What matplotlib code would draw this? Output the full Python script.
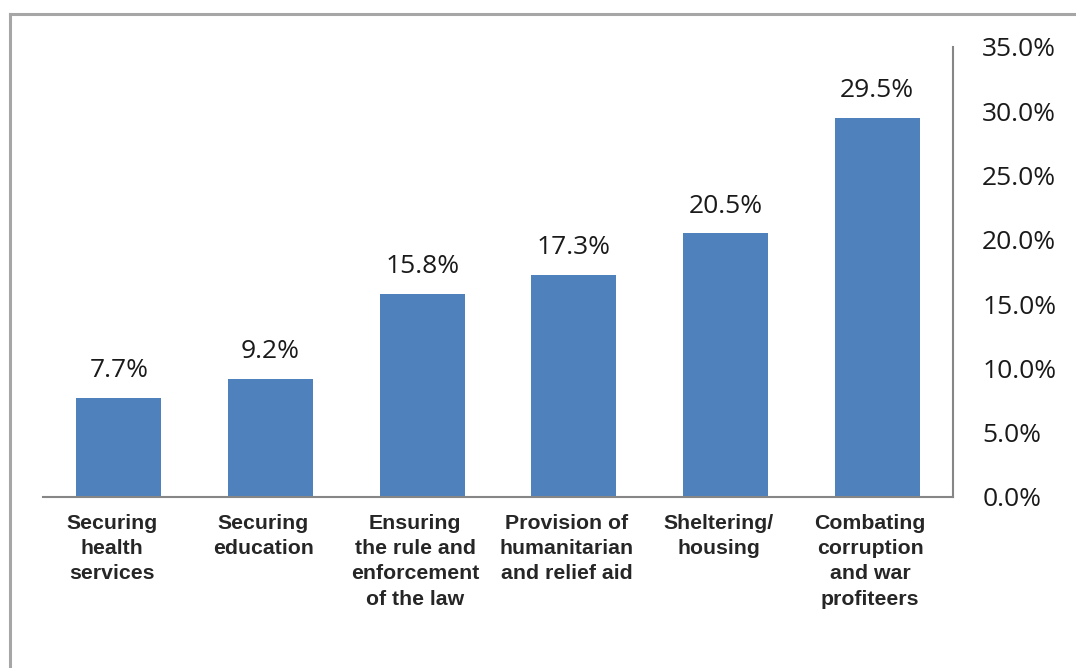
import matplotlib
matplotlib.use("Agg")
import matplotlib.pyplot as plt
from matplotlib.lines import Line2D
import matplotlib.transforms as mtransforms
import numpy as np

categories = ["Securing\nhealth\nservices", "Securing\neducation",
              "Ensuring\nthe rule and\nenforcement\nof the law",
              "Provision of\nhumanitarian\nand relief aid",
              "Sheltering/\nhousing", "Combating\ncorruption\nand war\nprofiteers"]
values = [7.7, 9.2, 15.8, 17.3, 20.5, 29.5]
yticks = [0, 5, 10, 15, 20, 25, 30, 35]

fig = plt.figure(figsize=(10.76, 6.68), dpi=100)
ax = fig.add_axes([43 / 1076, 1 - 497 / 668, 910 / 1076, 450 / 668])

x = np.arange(len(categories))
ax.bar(x, values, width=0.56, color="#4F81BD", zorder=2)

for xi, v in zip(x, values):
    ax.annotate(f"{v:.1f}%", (xi, v), xytext=(0, 10.5), textcoords="offset points",
                ha="center", va="bottom", fontsize=19, family="Open Sans", color="#1a1a1a")

ax.set_xlim(-0.5, len(categories) - 0.5)
ax.set_ylim(0, 35)
ax.yaxis.tick_right()
ax.set_yticks(yticks)
ax.set_yticklabels([f"{t:.1f}%" for t in yticks], family="Open Sans", fontsize=19, color="#1a1a1a")
ax.tick_params(axis="y", length=0, pad=21)
ax.set_xticks(x)
ax.set_xticklabels(categories, family="Liberation Sans", fontweight="bold", fontsize=15.3,
                   color="#262626", linespacing=1.42)
ax.tick_params(axis="x", length=0, pad=12)
shift = mtransforms.ScaledTranslation(-7 / 100, 0, fig.dpi_scale_trans)
for lab in ax.get_xticklabels():
    lab.set_transform(lab.get_transform() + shift)

for s in ["top", "left"]:
    ax.spines[s].set_visible(False)
ax.spines["right"].set_color("#868686")
ax.spines["right"].set_linewidth(1.5)
ax.spines["bottom"].set_color("#868686")
ax.spines["bottom"].set_linewidth(1.5)

# outer frame on the left and top
fig.add_artist(Line2D([9.5 / 1076, 9.5 / 1076], [0, 1 - 13.5 / 668], color="#a6a6a6", lw=2.2))
fig.add_artist(Line2D([9.5 / 1076, 1], [1 - 13.5 / 668, 1 - 13.5 / 668], color="#a6a6a6", lw=2.2))

fig.savefig("out.png", dpi=100)
